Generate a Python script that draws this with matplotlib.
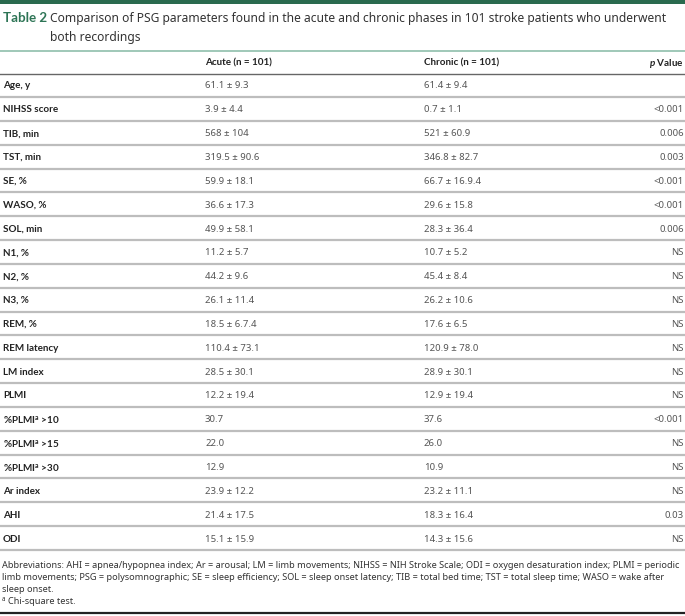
import matplotlib
matplotlib.use("Agg")
import matplotlib.pyplot as plt
from matplotlib.lines import Line2D
from matplotlib.patches import Rectangle

FONT = 'Noto Sans'
BOLD = 'Lato'
plt.rcParams['font.family'] = [FONT, 'DejaVu Sans']
plt.rcParams['mathtext.fontset'] = 'custom'
plt.rcParams['mathtext.rm'] = BOLD + ':bold'
plt.rcParams['mathtext.it'] = BOLD + ':italic:bold'
plt.rcParams['mathtext.bf'] = BOLD + ':bold'

title_num = "Table 2"
title_lines = ["Comparison of PSG parameters found in the acute and chronic phases in 101 stroke patients who underwent",
               "both recordings"]
headers = ["", "Acute (n = 101)", "Chronic (n = 101)", "$p$ Value"]

params = ["Age, y", "NIHSS score", "TIB, min", "TST, min", "SE, %", "WASO, %", "SOL, min",
          "N1, %", "N2, %", "N3, %", "REM, %", "REM latency", "LM index", "PLMI",
          r"%PLMI$^{\mathrm{a}}$ >10", r"%PLMI$^{\mathrm{a}}$ >15", r"%PLMI$^{\mathrm{a}}$ >30",
          "Ar index", "AHI", "ODI"]
acute = ["61.1 ± 9.3", "3.9 ± 4.4", "568 ± 104", "319.5 ± 90.6", "59.9 ± 18.1", "36.6 ± 17.3",
         "49.9 ± 58.1", "11.2 ± 5.7", "44.2 ± 9.6", "26.1 ± 11.4", "18.5 ± 6.7.4", "110.4 ± 73.1",
         "28.5 ± 30.1", "12.2 ± 19.4", "30.7", "22.0", "12.9", "23.9 ± 12.2", "21.4 ± 17.5",
         "15.1 ± 15.9"]
chronic = ["61.4 ± 9.4", "0.7 ± 1.1", "521 ± 60.9", "346.8 ± 82.7", "66.7 ± 16.9.4", "29.6 ± 15.8",
           "28.3 ± 36.4", "10.7 ± 5.2", "45.4 ± 8.4", "26.2 ± 10.6", "17.6 ± 6.5", "120.9 ± 78.0",
           "28.9 ± 30.1", "12.9 ± 19.4", "37.6", "26.0", "10.9", "23.2 ± 11.1", "18.3 ± 16.4",
           "14.3 ± 15.6"]
pvals = ["", "<0.001", "0.006", "0.003", "<0.001", "<0.001", "0.006", "NS", "NS", "NS", "NS",
         "NS", "NS", "NS", "<0.001", "NS", "NS", "NS", "0.03", "NS"]
footer = ["Abbreviations: AHI = apnea/hypopnea index; Ar = arousal; LM = limb movements; NIHSS = NIH Stroke Scale; ODI = oxygen desaturation index; PLMI = periodic",
          "limb movements; PSG = polysomnographic; SE = sleep efficiency; SOL = sleep onset latency; TIB = total bed time; TST = total sleep time; WASO = wake after",
          "sleep onset.",
          "Chi-square test."]

W, H = 685, 616
fig = plt.figure(figsize=(W / 100, H / 100), dpi=100)
fig.patch.set_facecolor("white")

def fy(py):
    return 1 - py / H

def fx(px):
    return px / W

def hline(py, color, lw):
    fig.add_artist(Line2D([0, 1], [fy(py), fy(py)], color=color, lw=lw, transform=fig.transFigure))

GREEN = "#2e7556"
fig.add_artist(Rectangle((0, fy(3.5)), 1, 3.5 / H, color="#2a6a4e", transform=fig.transFigure, lw=0))

fig.text(fx(3), fy(17), title_num, color=GREEN, fontsize=9.6, family=[BOLD], fontweight="bold",
         va="center_baseline", ha="left")
fig.text(fx(50), fy(17), title_lines[0], color="#333333", fontsize=8.7, va="center_baseline", ha="left")
fig.text(fx(50), fy(36), title_lines[1], color="#333333", fontsize=8.7, va="center_baseline", ha="left")

hline(50.5, "#8fbfab", 1.2)

col_x = [3, 205, 424, 684]
header_y = 61.5
FS = 6.9
BFS = 7.1
for i, h in enumerate(headers):
    if not h:
        continue
    fig.text(fx(col_x[i]), fy(header_y), h, fontsize=BFS, family=[BOLD], fontweight="bold", color="#222222",
             va="center_baseline", ha="right" if i == 3 else "left")
hline(73.5, "#666666", 1.0)

row0 = 85
step = (538 - 85) / 19
for r in range(len(params)):
    y = row0 + r * step
    fig.text(fx(col_x[0]), fy(y), params[r], fontsize=BFS, family=[BOLD], fontweight="bold", color="#222222",
             va="center_baseline", ha="left")
    fig.text(fx(col_x[1]), fy(y), acute[r], fontsize=FS, color="#555555", va="center_baseline", ha="left")
    fig.text(fx(col_x[2]), fy(y), chronic[r], fontsize=FS, color="#555555", va="center_baseline", ha="left")
    fig.text(fx(col_x[3]), fy(y), pvals[r], fontsize=FS, color="#555555", va="center_baseline", ha="right")
    hline(y + 12, "#bdbdbd", 1.6)

foot_y = [565, 577, 589, 601]
for i, (t, y) in enumerate(zip(footer, foot_y)):
    x = 2
    if i == 3:
        fig.text(fx(2), fy(y - 2.5), "a", fontsize=4.5, color="#333333", va="center_baseline", ha="left")
        x = 8
    fig.text(fx(x), fy(y), t, fontsize=6.6, color="#333333", va="center_baseline", ha="left")

hline(613, "#222222", 1.6)

fig.savefig("out.png", dpi=100, facecolor="white")
